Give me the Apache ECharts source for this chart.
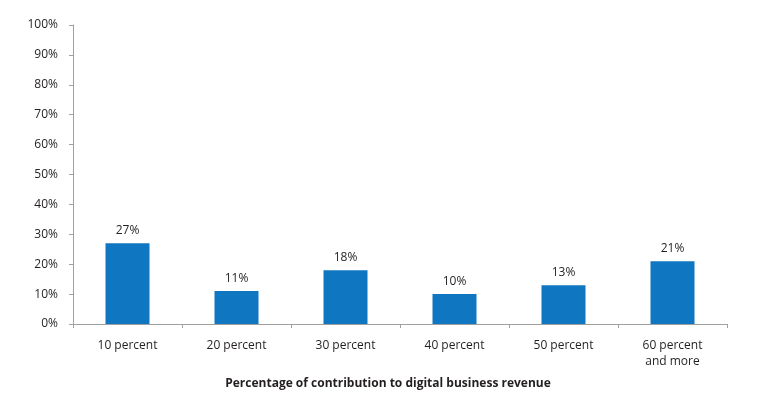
<!DOCTYPE html>
<html>
<head>
<meta charset="utf-8">
<script src="https://cdn.jsdelivr.net/npm/echarts@6/dist/echarts.min.js"></script>
<style>html,body{margin:0;padding:0;background:#fff}#c{width:776px;height:395px}</style>
</head>
<body>
<div id="c"></div>
<script>
const categories = ['10 percent', '20 percent', '30 percent', '40 percent', '50 percent', '60 percent\nand more'];
const values = [27, 11, 18, 10, 13, 21];
const yTicks = [0, 10, 20, 30, 40, 50, 60, 70, 80, 90, 100];
const axisTitle = 'Percentage of contribution to digital business revenue';

const chart = echarts.init(document.getElementById('c'), null, {renderer: 'canvas'});
const font = '"Open Sans", "Noto Sans", sans-serif';
chart.setOption({
  animation: false,
  backgroundColor: '#fff',
  grid: {left: 73, right: 49, top: 25, bottom: 67.5, containLabel: false},
  xAxis: {
    type: 'category',
    data: categories,
    axisLine: {lineStyle: {color: '#a0a0a0', width: 1}},
    axisTick: {show: true, length: 4, alignWithLabel: false, lineStyle: {color: '#a0a0a0'}},
    axisLabel: {color: '#231f20', fontFamily: font, fontSize: 12, margin: 14, lineHeight: 16},
    name: axisTitle,
    nameLocation: 'middle',
    nameGap: 54,
    nameTextStyle: {color: '#231f20', fontFamily: font, fontSize: 12, fontWeight: 'bold', padding: [0, 24, 0, 0]}
  },
  yAxis: {
    type: 'value',
    min: yTicks[0],
    max: yTicks[yTicks.length - 1],
    interval: 10,
    axisLine: {show: true, lineStyle: {color: '#a0a0a0', width: 1}},
    axisTick: {show: true, length: 4, lineStyle: {color: '#a0a0a0'}},
    splitLine: {show: false},
    axisLabel: {color: '#231f20', fontFamily: font, fontSize: 12, margin: 15, formatter: v => v + '%'}
  },
  series: [{
    type: 'bar',
    data: values,
    barWidth: 44,
    itemStyle: {color: '#0f77c1'},
    label: {
      show: true, position: 'top', distance: 7,
      color: '#231f20', fontFamily: font, fontSize: 12,
      formatter: p => p.value + '%'
    }
  }]
});
</script>
</body>
</html>
